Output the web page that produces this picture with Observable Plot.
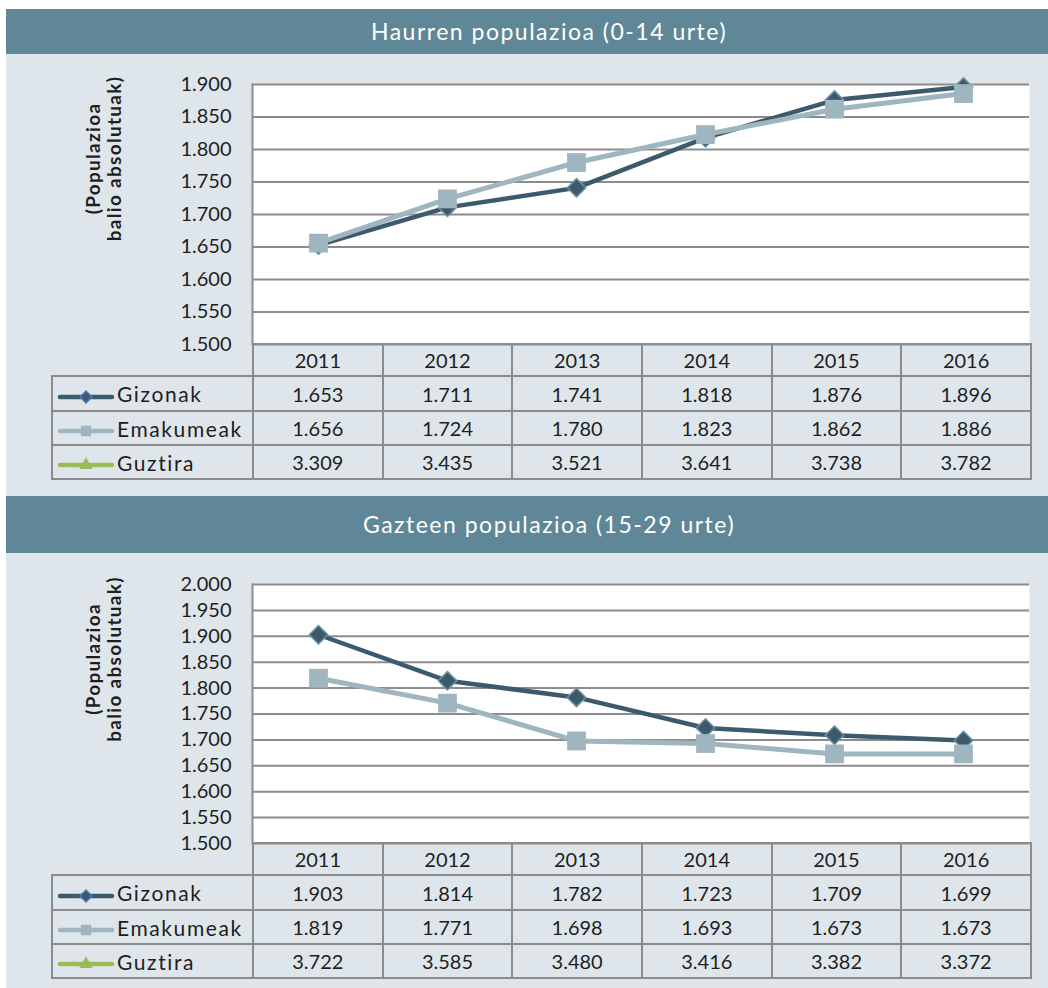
<!DOCTYPE html>
<html>
<head>
<meta charset="utf-8">
<script src="https://cdn.jsdelivr.net/npm/d3@7"></script>
<script src="https://cdn.jsdelivr.net/npm/@observablehq/plot@0.6"></script>
<style>
  html, body { margin: 0; padding: 0; background: #ffffff; }
  body { width: 1048px; height: 988px; position: relative; overflow: hidden; font-family: Lato, "Open Sans", sans-serif; color: #1e1e1e; }
  .panel { position: absolute; left: 6px; width: 1042px; background: #dfe6eb; }
  .bar { position: absolute; left: 0; top: 0; width: 998px; padding-left: 44px; background: #5f8797; color: #ffffff; font-size: 23px; letter-spacing: 1.5px; text-align: center; }
  .chart { position: absolute; left: 0; }
  .chart svg { overflow: visible; }
  table.data { position: absolute; left: 45px; border-collapse: collapse; table-layout: fixed; width: 979px; font-size: 20px; z-index: 2; }
  table.data td { border: 2px solid #8c8c8c; text-align: center; padding: 0; }
  table.data td.corner { border-top: none; border-left: none; }
  table.data td.lab { text-align: left; padding-left: 4px; white-space: nowrap; }
  table.data td.lab span { font-size: 21px; letter-spacing: 1.6px; }
  table.data td.lab svg { vertical-align: middle; margin-right: 2px; }
</style>
</head>
<body>
<script>
// ---------- data ----------
const years = ["2011", "2012", "2013", "2014", "2015", "2016"];
const seriesNames = ["Gizonak", "Emakumeak", "Guztira"];

const title1 = "Haurren populazioa (0-14 urte)";
const title2 = "Gazteen populazioa (15-29 urte)";
const yTitle = "(Populazioa\nbalio absolutuak)";

// Panel 1: children 0-14
const p1Gizonak   = [1653, 1711, 1741, 1818, 1876, 1896];
const p1Emakumeak = [1656, 1724, 1780, 1823, 1862, 1886];
const p1Guztira   = [3309, 3435, 3521, 3641, 3738, 3782];
const p1Ticks = [1500, 1550, 1600, 1650, 1700, 1750, 1800, 1850, 1900];

// Panel 2: youth 15-29
const p2Gizonak   = [1903, 1814, 1782, 1723, 1709, 1699];
const p2Emakumeak = [1819, 1771, 1698, 1693, 1673, 1673];
const p2Guztira   = [3722, 3585, 3480, 3416, 3382, 3372];
const p2Ticks = [1500, 1550, 1600, 1650, 1700, 1750, 1800, 1850, 1900, 1950, 2000];

// ---------- styles ----------
const DARK = "#3d5a6c";
const DARK_EDGE = "#6a90a3";
const LIGHT = "#9fb5c0";
const GREEN = "#9bbb59";
const GRID = "#8c8c8c";
const FONT = "Lato, 'Open Sans', sans-serif";

const fmt = d => d3.format(",")(d).replace(/,/g, ".");
const rows = (vals) => years.map((y, i) => ({year: y, value: vals[i]}));

function makePanel({top, height, barHeight, title, ticks, giz, ema, tot, frameTop, frameBottom, titleDy}) {
  const panel = document.createElement("div");
  panel.className = "panel";
  panel.style.top = top + "px";
  panel.style.height = height + "px";
  document.body.appendChild(panel);

  const bar = document.createElement("div");
  bar.className = "bar";
  bar.style.height = barHeight + "px";
  bar.style.lineHeight = barHeight + "px";
  bar.textContent = title;
  panel.appendChild(bar);

  const svgTop = barHeight;
  const marginTop = frameTop - (top + svgTop);
  const frameH = frameBottom - frameTop;
  const svgH = marginTop + frameH + 20;

  const plot = Plot.plot({
    width: 1042,
    height: svgH,
    marginTop,
    marginBottom: 20,
    marginLeft: 246,
    marginRight: 19,
    style: {background: "transparent", fontFamily: FONT, fontSize: "20px", color: "#1e1e1e", overflow: "visible"},
    x: {type: "point", domain: years, padding: 0.5, axis: null},
    y: {domain: [ticks[0], ticks[ticks.length - 1]], axis: null},
    marks: [
      Plot.frame({fill: "white", stroke: null}),
      Plot.ruleY(ticks, {stroke: GRID, strokeWidth: 2}),
      Plot.frame({anchor: "left", stroke: GRID, strokeWidth: 2}),
      Plot.axisY(ticks, {tickSize: 0, tickPadding: 21, tickFormat: fmt, fontSize: 20, label: null, fill: "#1e1e1e"}),
      Plot.text([yTitle], {frameAnchor: "left", dx: -149, dy: titleDy, rotate: -90, fontWeight: "bold", fontSize: 19, lineHeight: 1.1, lineAnchor: "middle", textAnchor: "middle", fill: "#1e1e1e"}),
      Plot.line(rows(giz), {x: "year", y: "value", stroke: DARK, strokeWidth: 4.5}),
      Plot.dot(rows(giz), {x: "year", y: "value", symbol: "diamond2", r: 8.3, fill: DARK, stroke: DARK_EDGE, strokeWidth: 1.5}),
      Plot.line(rows(ema), {x: "year", y: "value", stroke: LIGHT, strokeWidth: 5}),
      Plot.dot(rows(ema), {x: "year", y: "value", symbol: "square", r: 10.6, fill: LIGHT, stroke: null})
    ]
  });
  // widen the y-axis title letters (the reference typeface is a wide geometric sans)
  d3.select(plot).selectAll("text").filter(function() { return this.textContent.includes("Populazioa"); })
    .style("letter-spacing", "1.3px");

  const holder = document.createElement("div");
  holder.className = "chart";
  holder.style.top = svgTop + "px";
  holder.appendChild(plot);
  panel.appendChild(holder);

  const table = document.createElement("table");
  table.className = "data";
  table.style.top = (frameBottom - top - 1) + "px";
  const cg = document.createElement("colgroup");
  [201, ...years.map(() => 129.67)].forEach(w => { const c = document.createElement("col"); c.style.width = w + "px"; cg.appendChild(c); });
  table.appendChild(cg);

  const hr = table.insertRow();
  hr.style.height = "32px";
  const corner = hr.insertCell(); corner.className = "corner";
  years.forEach(y => { hr.insertCell().textContent = y; });

  const sw = [
    {name: seriesNames[0], vals: giz, color: DARK, sym: d3.symbolDiamond2, size: 90, edge: "#4a7ebb"},
    {name: seriesNames[1], vals: ema, color: LIGHT, sym: d3.symbolSquare, size: 110, edge: null},
    {name: seriesNames[2], vals: tot, color: GREEN, sym: d3.symbolTriangle, size: 80, edge: null}
  ];
  const rh = [35, 34, 34];
  sw.forEach((s, k) => {
    const tr = table.insertRow();
    tr.style.height = rh[k] + "px";
    const lab = tr.insertCell(); lab.className = "lab";
    const svg = d3.create("svg").attr("width", 58).attr("height", 16);
    svg.append("line").attr("x1", 3).attr("x2", 55).attr("y1", 8).attr("y2", 8)
      .attr("stroke", s.color).attr("stroke-width", 4.5).attr("stroke-linecap", "round");
    svg.append("path").attr("d", d3.symbol(s.sym, s.size)()).attr("transform", "translate(29,8)")
      .attr("fill", s.color).attr("stroke", s.edge || "none").attr("stroke-width", 1.5);
    lab.appendChild(svg.node());
    const span = document.createElement("span"); span.textContent = s.name; lab.appendChild(span);
    s.vals.forEach(v => { tr.insertCell().textContent = fmt(v); });
  });
  panel.appendChild(table);
}

makePanel({top: 9, height: 487, barHeight: 45, title: title1, ticks: p1Ticks,
  giz: p1Gizonak, ema: p1Emakumeak, tot: p1Guztira, frameTop: 84, frameBottom: 344, titleDy: -56});
makePanel({top: 496, height: 492, barHeight: 57, title: title2, ticks: p2Ticks,
  giz: p2Gizonak, ema: p2Emakumeak, tot: p2Guztira, frameTop: 584, frameBottom: 843, titleDy: -55});
</script>
</body>
</html>
